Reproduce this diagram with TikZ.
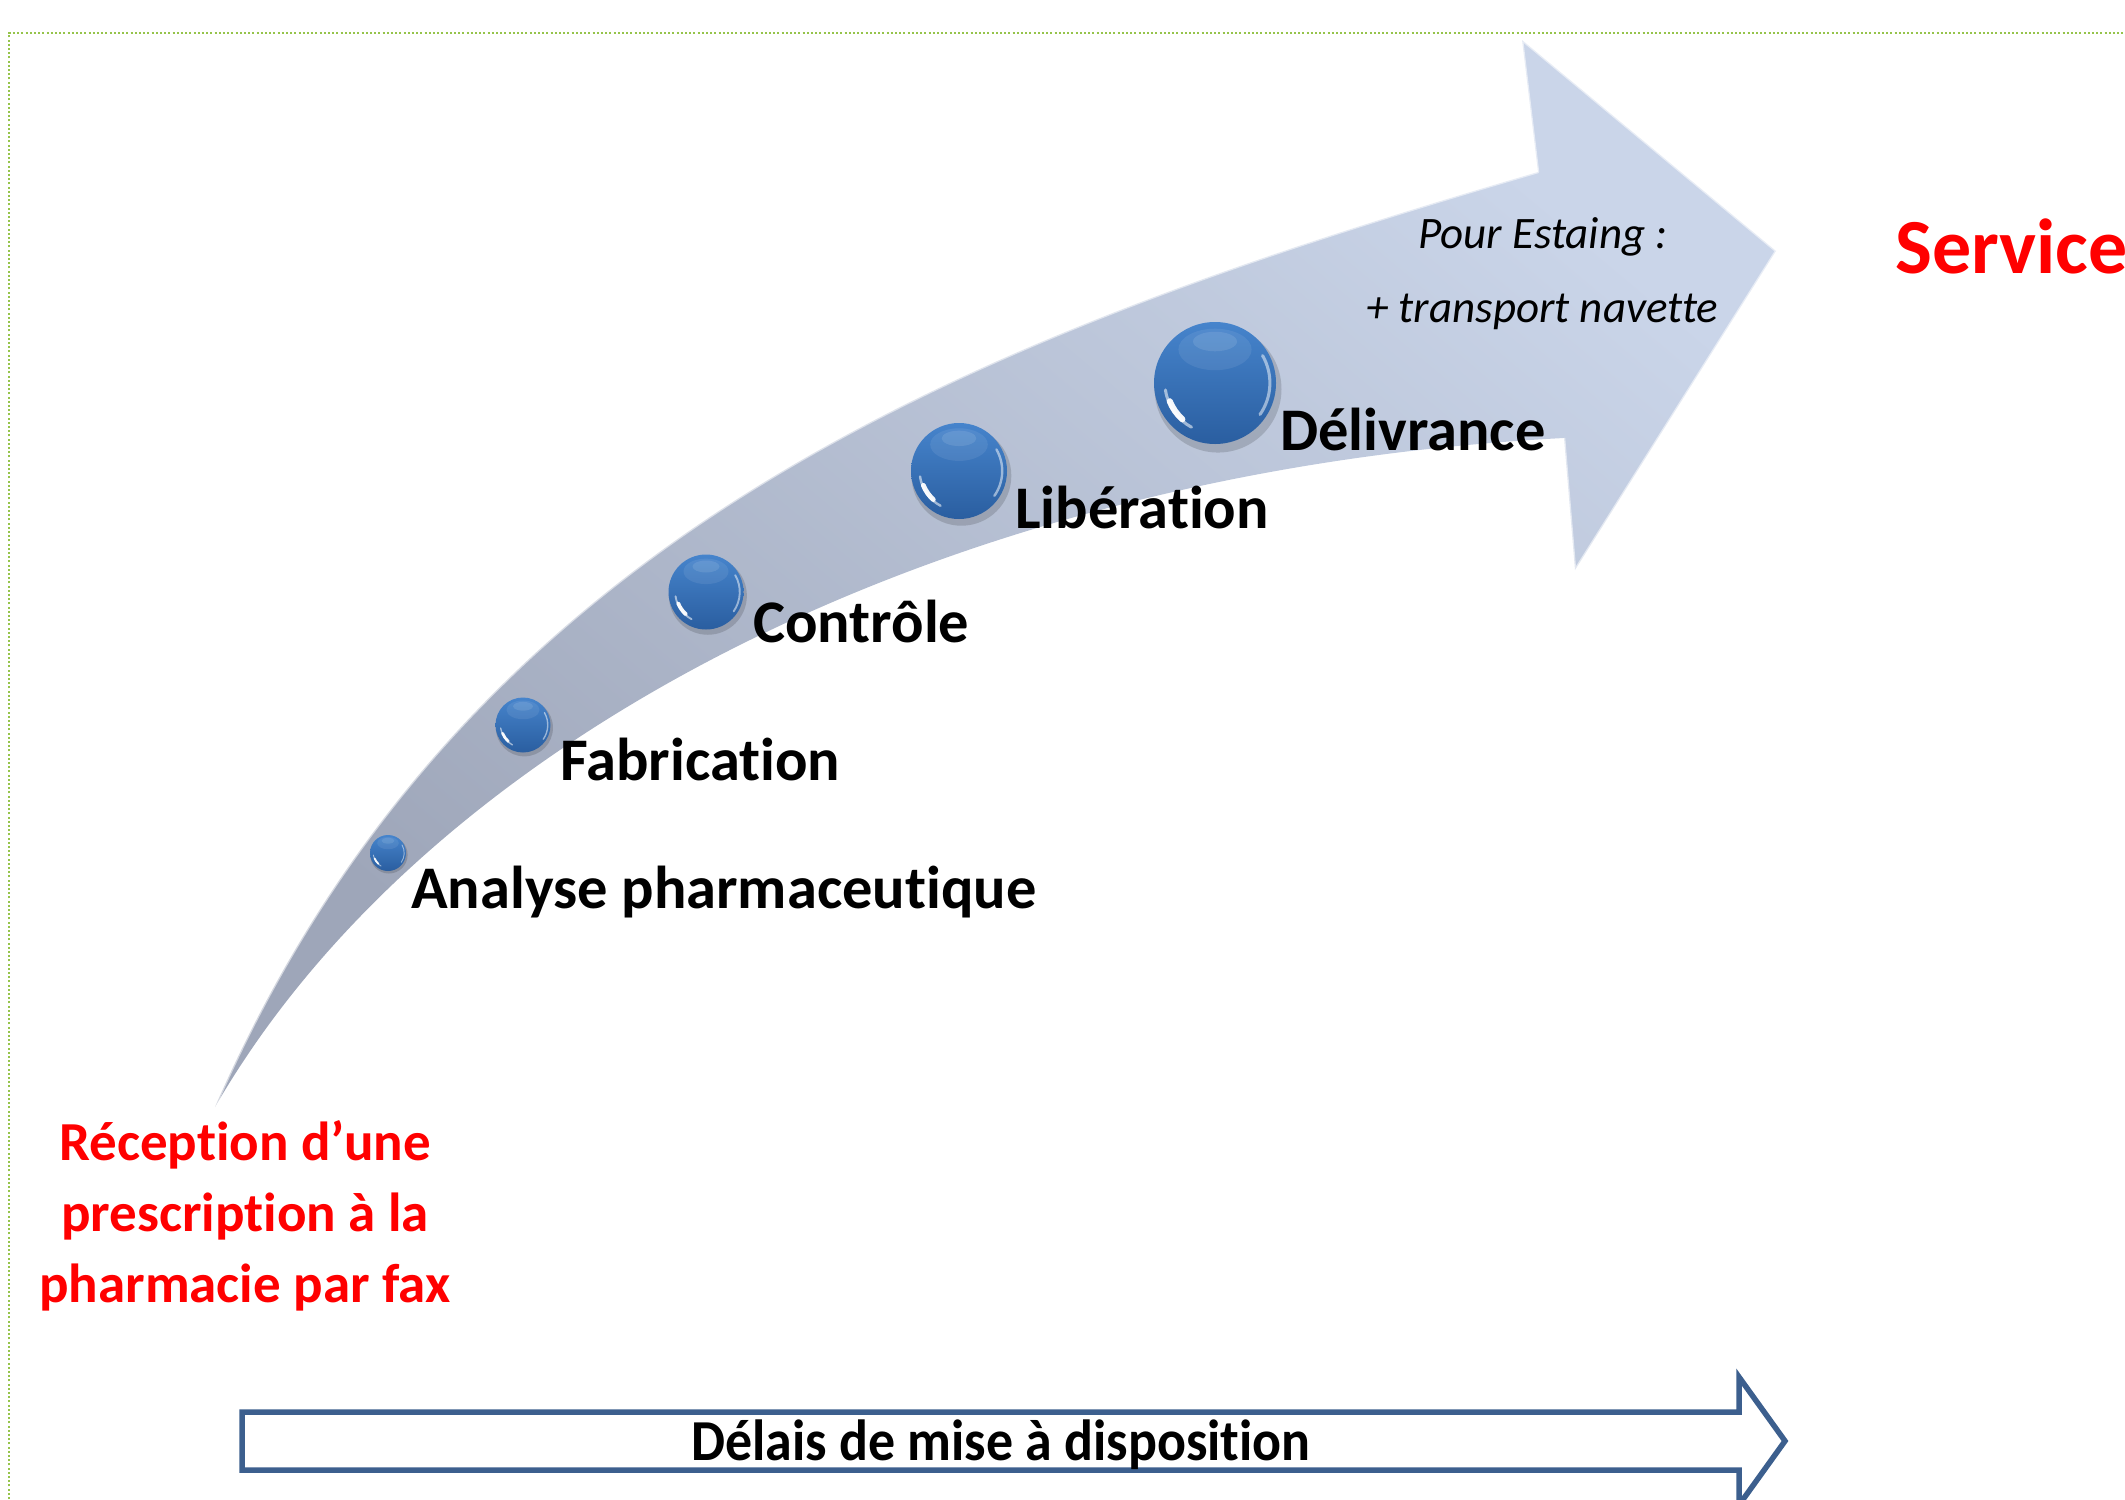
\documentclass[tikz,border=0pt]{standalone}
\usepackage{fontspec}
\setmainfont{Carlito}[Ligatures={NoCommon}]
\newfontfamily\narrowface{Carlito}[Ligatures={NoCommon}, FakeStretch=0.93]
\usetikzlibrary{calc}

\definecolor{bandlight}{RGB}{202,213,233}
\definecolor{banddark}{RGB}{158,166,185}
\definecolor{orbtop}{RGB}{70,132,204}
\definecolor{orbbot}{RGB}{42,94,160}
\definecolor{framegreen}{RGB}{150,196,75}
\definecolor{axisblue}{RGB}{60,95,142}
\definecolor{alertred}{RGB}{255,0,0}

\tikzset{
  orbnode/.style={circle, inner sep=0pt, draw=none, top color=orbtop, bottom color=orbbot},
  steplabel/.style={anchor=base west, inner sep=0pt, font=\bfseries\fontsize{60.5}{72}\selectfont},
  notelabel/.style={anchor=base west, inner sep=0pt, font=\itshape\fontsize{45}{54}\selectfont},
  redlabel/.style={inner sep=0pt, text=alertred, font=\bfseries\fontsize{55}{71}\selectfont},
  bandedge/.style={white, opacity=0.55, line width=2.5pt, line join=round},
}

% glossy blue orb: name, x, y, radius
\newcommand\orb[4]{%
  \fill[black, opacity=0.15] (#2+0.05*#4, #3+0.10*#4) circle[radius=1.04*#4];
  \node[orbnode, minimum size=2*#4pt] (#1) at (#2,#3) {};
  \begin{scope}[shift={(#1.center)}]
    \fill[white, opacity=0.08] (0,-0.55*#4) ellipse[x radius=0.6*#4, y radius=0.34*#4];
    \fill[white, opacity=0.10] (0,-0.68*#4) ellipse[x radius=0.36*#4, y radius=0.16*#4];
    \draw[white, opacity=0.5, line width=0.05*#4pt, line cap=round]
      (35:0.9*#4) arc[start angle=35, end angle=-30, radius=0.9*#4];
    \draw[white, opacity=0.55, line width=0.05*#4pt, line cap=round]
      (172:0.82*#4) arc[start angle=172, end angle=118, radius=0.82*#4];
    \draw[white, opacity=0.95, line width=0.1*#4pt, line cap=round]
      (158:0.8*#4) arc[start angle=158, end angle=132, radius=0.8*#4];
  \end{scope}
}

\begin{document}
\begin{tikzpicture}[x=1pt, y=-1pt]
  \useasboundingbox (0,0) rectangle (2125,1499);

  % dotted frame
  \draw[framegreen, line width=2pt, dash pattern=on 2pt off 2.2pt] (9,1499) -- (9,33) -- (2125,33);

  % curved process arrow
  \coordinate (tail) at (215,1107);
  \coordinate (notchup) at (1538,172);
  \coordinate (barbup) at (1522,40);
  \coordinate (tip) at (1776,251);
  \coordinate (barblow) at (1575,570);
  \coordinate (notchlow) at (1564,438);
  \shade[top color=bandlight, bottom color=banddark, shading angle=-40]
    (tail) .. controls (463,537) and (962,340) .. (notchup) -- (barbup) -- (tip)
    -- (barblow) -- (notchlow) .. controls (950,470) and (430,735) .. (tail) -- cycle;
  \draw[bandedge] (tail) .. controls (463,537) and (962,340) .. (notchup) -- (barbup) -- (tip) -- (barblow) -- (notchlow);

  % process steps
  \orb{o1}{388}{853}{18}
  \orb{o2}{523}{725}{27.5}
  \orb{o3}{706}{592}{37.5}
  \orb{o4}{959}{471}{48}
  \orb{o5}{1215}{383}{61}

  \node[steplabel] (analyse) at (411,908) {Analyse pharmaceutique};
  \node[steplabel] (fabrication) at (560,780) {Fabrication};
  \node[steplabel] (controle) at (753,642) {Contrôle};
  \node[steplabel] (liberation) at (1015,528) {Libération};
  \node[steplabel] (delivrance) at (1280,450) {Délivrance};

  \node[notelabel] (estaing) at (1418,248) {Pour Estaing :};
  \node[notelabel] (navette) at (1366,322) {+ transport navette};

  \node[redlabel, anchor=base west, font=\bfseries\fontsize{78}{90}\selectfont] (service) at (1895,273) {Service};
  \node[redlabel, anchor=north, align=center] (reception) at (245,1120)
    {Réception d’une\\prescription à la\\pharmacie par fax};

  % time axis
  \draw[axisblue, line width=5.5pt, fill=white, line join=miter]
    (242,1412) -- (1739,1412) -- (1739,1377) -- (1785,1441) -- (1739,1505)
    -- (1739,1470) -- (242,1470) -- cycle;
  \node[anchor=base, inner sep=0pt, font=\narrowface\bfseries\fontsize{58}{70}\selectfont] (delais) at (1001,1460)
    {Délais de mise à disposition};
\end{tikzpicture}
\end{document}
